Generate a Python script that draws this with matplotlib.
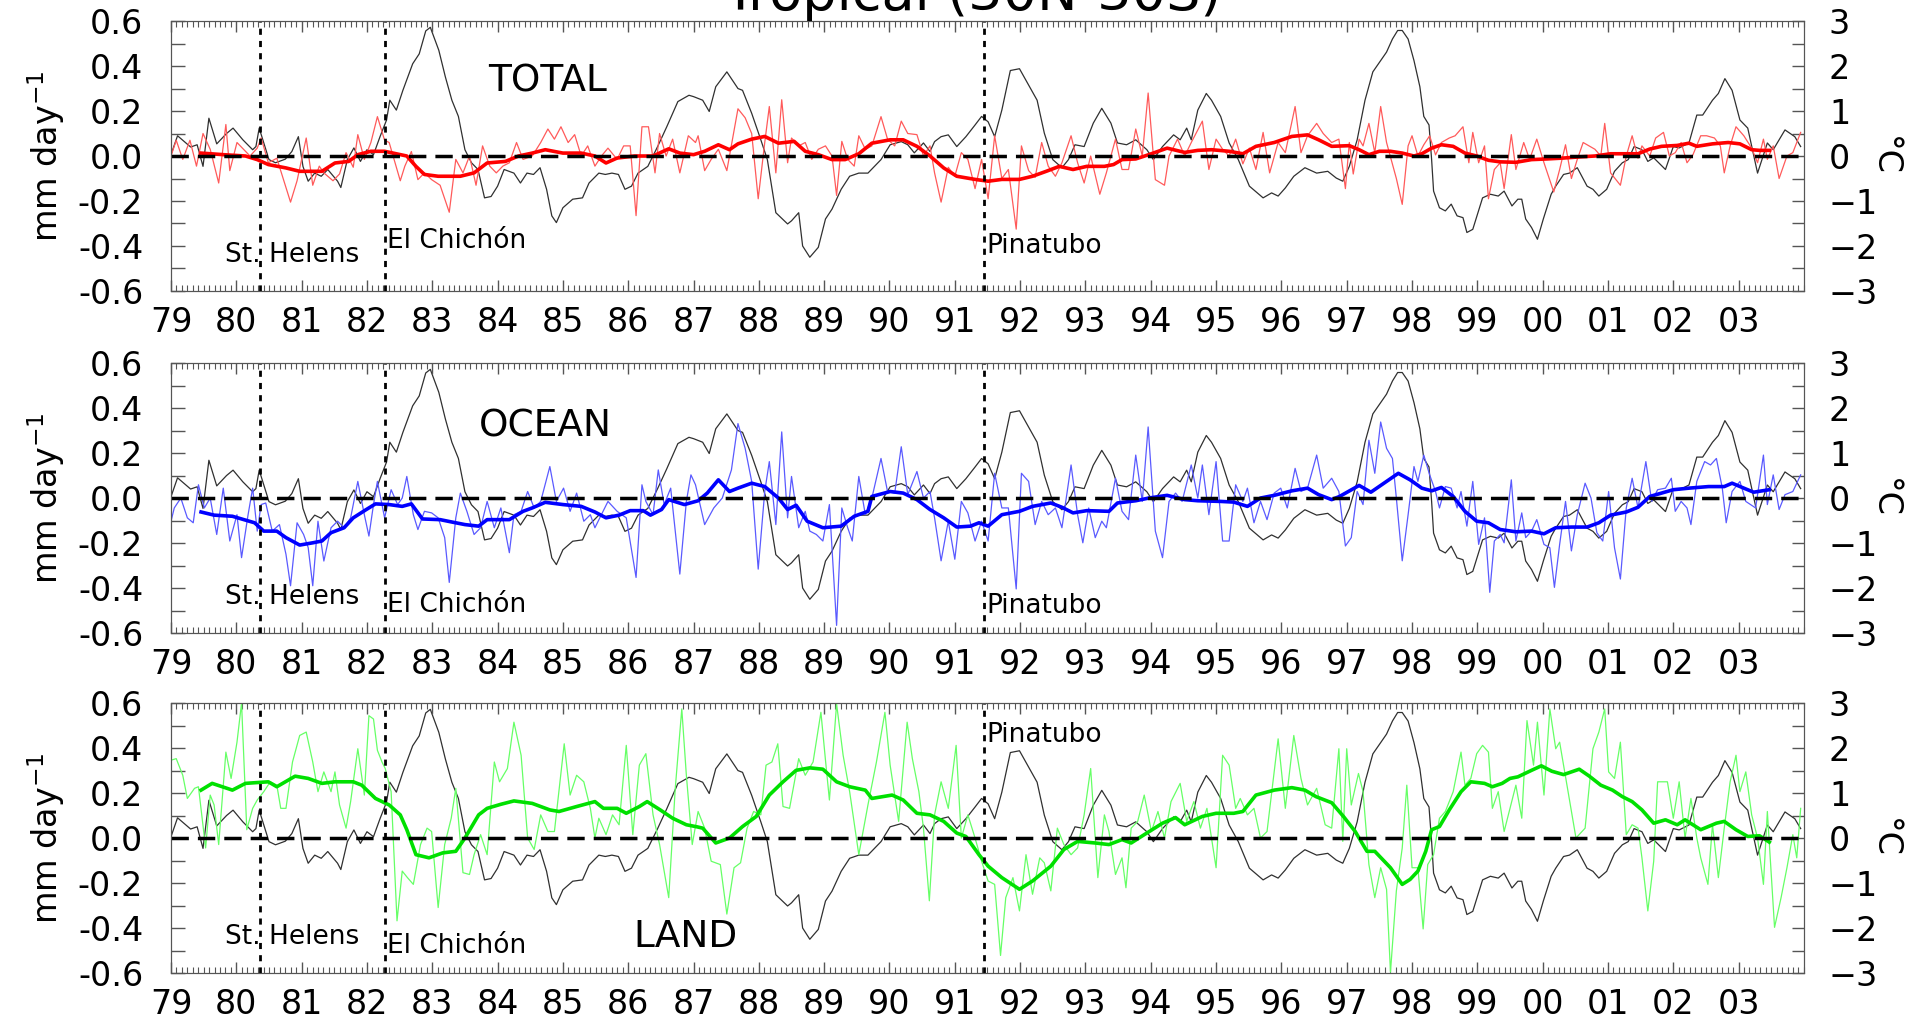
import numpy as np
import matplotlib
matplotlib.use('Agg')
import matplotlib.pyplot as plt
from matplotlib.ticker import MultipleLocator

# years are counted from 1900 (79 = 1979, 103 = 2003)
year_ticks = list(range(79, 104))
year_labels = ['%02d' % (y % 100) for y in year_ticks]

# Nino-3.4 style SST index (deg C), right axis
sst_t = [79.0, 79.1, 79.3, 79.4, 79.49, 79.58, 79.7, 79.85, 79.95, 80.1, 80.25, 80.3, 80.35, 80.5, 80.6,
         80.75, 80.85, 80.95, 81.02, 81.1, 81.2, 81.3, 81.4, 81.55, 81.6, 81.7, 81.8, 81.9, 82.0, 82.1,
         82.2, 82.3, 82.35, 82.45, 82.55, 82.7, 82.8, 82.9, 82.97, 83.1, 83.2, 83.3, 83.4, 83.5, 83.6,
         83.7, 83.8, 83.9, 84.0, 84.1, 84.25, 84.35, 84.45, 84.55, 84.65, 84.75, 84.83, 84.9, 85.0,
         85.15, 85.3, 85.4, 85.55, 85.65, 85.75, 85.85, 85.95, 86.05, 86.15, 86.3, 86.45, 86.59, 86.76,
         86.93, 87.0, 87.14, 87.24, 87.34, 87.51, 87.68, 87.75, 87.89, 88.03, 88.13, 88.26, 88.44, 88.5,
         88.61, 88.67, 88.78, 88.91, 89.02, 89.12, 89.26, 89.39, 89.53, 89.67, 89.87, 90.01, 90.18,
         90.28, 90.38, 90.52, 90.62, 90.69, 90.79, 90.9, 91.03, 91.17, 91.31, 91.41, 91.51, 91.61,
         91.72, 91.85, 91.99, 92.09, 92.26, 92.37, 92.5, 92.64, 92.74, 92.84, 92.98, 93.12, 93.25,
         93.39, 93.49, 93.63, 93.77, 93.94, 94.04, 94.18, 94.35, 94.45, 94.55, 94.62, 94.72, 94.85,
         94.93, 95.07, 95.2, 95.34, 95.51, 95.72, 95.85, 95.95, 96.06, 96.19, 96.36, 96.54, 96.71,
         96.84, 96.94, 97.04, 97.16, 97.28, 97.4, 97.52, 97.61, 97.7, 97.78, 97.85, 97.94, 98.03,
         98.12, 98.18, 98.26, 98.3, 98.33, 98.42, 98.51, 98.6, 98.69, 98.78, 98.84, 98.93, 99.08,
         99.2, 99.32, 99.41, 99.53, 99.62, 99.68, 99.74, 99.83, 99.92, 100.01, 100.13, 100.2, 100.32,
         100.41, 100.53, 100.68, 100.77, 100.86, 100.98, 101.1, 101.22, 101.31, 101.4, 101.52, 101.61,
         101.7, 101.88, 102.0, 102.09, 102.24, 102.36, 102.45, 102.6, 102.69, 102.79, 102.9, 103.02,
         103.14, 103.29, 103.44, 103.53, 103.71, 103.86, 103.95]
sst_c = [0.03, 0.45, 0.2, 0.25, -0.23, 0.84, 0.27, 0.5, 0.62, 0.36, 0.14, 0.21, 0.62, -0.08, -0.15,
         -0.07, 0.1, 0.43, -0.23, -0.56, -0.38, -0.45, -0.3, -0.56, -0.7, -0.08, 0.18, -0.12, 0.14, 0.03,
         0.43, 0.8, 1.24, 1.02, 1.46, 2.05, 2.27, 2.78, 2.86, 2.35, 1.76, 1.24, 0.88, 0.14, -0.15,
         -0.3, -0.93, -0.9, -0.67, -0.3, -0.38, -0.6, -0.38, -0.41, -0.26, -0.74, -1.33, -1.48, -1.15,
         -0.96, -0.93, -0.6, -0.38, -0.41, -0.38, -0.41, -0.74, -0.67, -0.38, -0.23, 0.21, 0.65, 1.21,
         1.35, 1.32, 1.24, 0.99, 1.54, 1.87, 1.5, 1.46, 0.95, 0.36, -0.08, -1.26, -1.51, -1.44,
         -1.26, -2.0, -2.25, -2.03, -1.4, -1.18, -0.74, -0.45, -0.38, -0.38, -0.08, 0.25, 0.32,
         0.25, 0.07, 0.29, 0.1, 0.32, 0.43, 0.47, 0.21, 0.43, 0.69, 0.88, 0.76, 0.43,
         1.02, 1.9, 1.94, 1.68, 1.24, 0.51, -0.08, -0.26, -0.08, 0.25, 0.21, 0.73, 1.06,
         0.73, 0.29, 0.25, 0.36, 0.14, -0.08, 0.21, 0.47, 0.36, 0.62, 0.36, 1.02, 1.39,
         1.24, 0.88, 0.29, -0.08, -0.67, -0.93, -0.82, -0.89, -0.71, -0.45, -0.26, -0.38, -0.34,
         -0.49, -0.56, -0.23, 0.36, 1.24, 1.87, 2.12, 2.31, 2.6, 2.79, 2.79, 2.6, 2.12,
         1.54, 0.88, 0.69, -0.08, -0.78, -1.15, -1.22, -1.07, -1.33, -1.37, -1.7, -1.63, -0.93,
         -0.85, -0.89, -0.78, -1.11, -0.96, -0.96, -1.4, -1.59, -1.85, -1.4, -0.85, -0.67, -0.41,
         -0.38, -0.26, -0.67, -0.74, -0.89, -0.74, -0.34, -0.15, -0.08, 0.21, 0.14, -0.12,
         -0.04, -0.3, 0.21, 0.18, 0.29, 0.91, 0.91, 1.24, 1.39, 1.72, 1.46, 0.8,
         0.62, -0.38, 0.29, 0.14, 0.58, 0.43, 0.21]

# TOTAL precipitation anomaly (mm/day): monthly and smoothed
tot_t = [79.0, 79.08, 79.18, 79.29, 79.39, 79.49, 79.6, 79.73, 79.84, 79.9, 80.01, 80.11, 80.21, 80.32,
         80.38, 80.49, 80.62, 80.83, 80.93, 81.07, 81.17, 81.27, 81.34, 81.48, 81.58, 81.68, 81.79,
         81.86, 81.96, 82.06, 82.16, 82.27, 82.34, 82.4, 82.51, 82.58, 82.68, 82.78, 82.88, 82.99,
         83.12, 83.26, 83.36, 83.47, 83.57, 83.67, 83.77, 83.88, 83.98, 84.08, 84.18, 84.29, 84.39,
         84.53, 84.66, 84.77, 84.87, 84.97, 85.08, 85.18, 85.28, 85.38, 85.49, 85.59, 85.69, 85.83,
         85.93, 86.03, 86.12, 86.21, 86.31, 86.41, 86.48, 86.58, 86.68, 86.79, 86.92, 87.03, 87.07,
         87.17, 87.27, 87.38, 87.51, 87.68, 87.79, 87.89, 87.99, 88.09, 88.16, 88.26, 88.35, 88.44,
         88.5, 88.61, 88.71, 88.81, 88.91, 89.02, 89.12, 89.19, 89.27, 89.36, 89.46, 89.53, 89.63,
         89.73, 89.87, 89.97, 90.08, 90.18, 90.28, 90.42, 90.52, 90.62, 90.69, 90.79, 90.9, 91.0,
         91.1, 91.2, 91.31, 91.41, 91.51, 91.61, 91.72, 91.82, 91.94, 92.02, 92.13, 92.23, 92.33,
         92.43, 92.54, 92.64, 92.78, 92.88, 92.98, 93.08, 93.22, 93.32, 93.46, 93.56, 93.66, 93.77,
         93.87, 93.96, 94.07, 94.21, 94.28, 94.41, 94.52, 94.62, 94.79, 94.89, 95.0, 95.1, 95.2,
         95.3, 95.41, 95.51, 95.61, 95.72, 95.82, 95.95, 96.06, 96.21, 96.3, 96.4, 96.54, 96.64,
         96.77, 96.88, 96.98, 97.04, 97.1, 97.19, 97.25, 97.34, 97.43, 97.52, 97.61, 97.76, 97.85,
         97.94, 98.0, 98.09, 98.18, 98.27, 98.36, 98.45, 98.57, 98.66, 98.78, 98.87, 98.93, 99.02,
         99.11, 99.17, 99.26, 99.35, 99.41, 99.52, 99.59, 99.71, 99.8, 99.91, 100.02, 100.17, 100.26,
         100.35, 100.44, 100.53, 100.62, 100.71, 100.8, 100.89, 100.95, 101.04, 101.19, 101.28,
         101.37, 101.46, 101.52, 101.64, 101.73, 101.85, 101.94, 102.03, 102.12, 102.21, 102.3,
         102.42, 102.51, 102.63, 102.72, 102.78, 102.87, 102.96, 103.08, 103.2, 103.29, 103.38,
         103.44, 103.53, 103.62, 103.74, 103.83, 103.95]
tot_mm = [0.0, 0.07, -0.015, 0.07, -0.045, 0.1, 0.03, -0.12, 0.14, -0.065, 0.06, 0.03, 0.0, 0.035,
          0.08, -0.03, -0.01, -0.205, -0.11, 0.08, -0.13, -0.045, -0.075, -0.11, -0.08, 0.015, -0.05,
          0.095, -0.015, 0.06, 0.175, 0.07, 0.06, 0.0, -0.11, -0.045, 0.02, -0.105, -0.075, -0.105,
          -0.13, -0.25, -0.015, -0.075, 0.0, -0.13, 0.045, -0.045, -0.075, -0.045, -0.03, 0.06, -0.015,
          0.0, 0.06, 0.12, 0.075, 0.13, 0.06, 0.095, 0.0, 0.045, -0.045, 0.0, 0.035, -0.015,
          0.045, 0.045, -0.265, 0.13, 0.13, -0.075, 0.1, 0.0, 0.075, -0.075, 0.09, 0.06, 0.09,
          -0.065, -0.015, 0.03, -0.065, 0.21, 0.17, 0.1, -0.19, 0.06, 0.22, -0.075, 0.25, -0.03,
          0.08, 0.045, 0.06, -0.015, 0.03, 0.045, 0.0, -0.175, 0.065, -0.015, -0.045, 0.09, 0.03,
          0.045, 0.175, 0.075, 0.045, 0.155, 0.1, 0.095, 0.0, 0.045, -0.075, -0.205, -0.05, -0.09,
          0.015, -0.015, -0.145, -0.015, -0.19, 0.09, -0.1, -0.06, -0.325, 0.045, -0.065, -0.095, 0.06,
          -0.045, -0.09, -0.03, 0.09, -0.03, -0.12, 0.0, -0.17, -0.075, 0.075, -0.06, -0.06, 0.12,
          0.0, 0.28, -0.105, -0.13, 0.0, 0.075, 0.0, 0.06, 0.155, -0.06, 0.075, 0.03, 0.0,
          0.075, -0.035, 0.035, -0.06, 0.105, -0.075, 0.06, 0.015, 0.22, 0.015, 0.09, 0.145, 0.1,
          0.06, 0.075, -0.145, 0.06, -0.08, 0.075, 0.045, 0.145, 0.015, 0.22, 0.06, -0.1, -0.215,
          0.045, 0.09, 0.0, 0.05, 0.09, 0.005, 0.06, 0.08, 0.09, 0.13, -0.03, 0.105, -0.03,
          0.045, -0.19, -0.06, -0.03, -0.145, 0.095, -0.06, 0.06, -0.015, 0.075, -0.03, -0.16, -0.06,
          0.05, -0.1, -0.015, 0.06, 0.045, 0.03, 0.0, 0.145, -0.075, -0.13, 0.0,
          0.09, -0.01, 0.045, 0.0, 0.08, 0.105, 0.0, 0.015, 0.06, -0.03, 0.005,
          0.09, 0.09, 0.08, 0.045, -0.075, 0.045, 0.13, 0.09, 0.035, -0.03, 0.075,
          -0.015, 0.045, -0.1, 0.0, 0.015, 0.105]
tot_smooth_t = [79.46, 79.8, 80.14, 80.32, 80.49, 80.76, 80.97, 81.31, 81.51, 81.72, 81.86, 82.06, 82.27,
                82.4, 82.61, 82.75, 82.88, 83.09, 83.43, 83.64, 83.84, 84.12, 84.32, 84.53, 84.73, 85.0,
                85.28, 85.49, 85.66, 85.83, 86.1, 86.38, 86.62, 86.79, 87.0, 87.17, 87.38, 87.55, 87.68,
                87.89, 88.09, 88.3, 88.54, 88.71, 88.91, 89.12, 89.32, 89.53, 89.73, 90.01, 90.21, 90.42,
                90.62, 90.83, 91.03, 91.31, 91.51, 91.72, 91.99, 92.19, 92.4, 92.6, 92.81, 93.02, 93.29,
                93.43, 93.56, 93.77, 93.97, 94.25, 94.52, 94.72, 94.93, 95.2, 95.41, 95.61, 95.89, 96.16,
                96.4, 96.57, 96.77, 97.04, 97.19, 97.34, 97.5, 97.67, 97.85, 98.03, 98.15, 98.3, 98.45,
                98.63, 98.81, 98.99, 99.17, 99.35, 99.59, 99.83, 100.07, 100.32, 100.56, 100.8, 101.04,
                101.28, 101.46, 101.64, 101.82, 102.06, 102.24, 102.36, 102.6, 102.84, 103.02, 103.2,
                103.32, 103.47]
tot_smooth = [0.013, 0.006, 0.0, -0.016, -0.038, -0.053, -0.068, -0.068, -0.031, -0.024, 0.006, 0.021, 0.021,
              0.013, 0.0, -0.046, -0.082, -0.09, -0.09, -0.075, -0.031, -0.024, 0.0, 0.013, 0.028, 0.013,
              0.013, 0.0, -0.031, -0.009, 0.0, 0.0, 0.032, 0.013, 0.006, 0.021, 0.05, 0.028, 0.054,
              0.075, 0.087, 0.057, 0.065, 0.021, 0.006, -0.016, -0.016, 0.01, 0.057, 0.072, 0.072, 0.043,
              0.0, -0.053, -0.09, -0.104, -0.112, -0.104, -0.104, -0.09, -0.068, -0.046, -0.06, -0.046, -0.046,
              -0.038, -0.016, -0.013, 0.006, 0.035, 0.016, 0.025, 0.028, 0.021, 0.01, 0.043, 0.06, 0.087,
              0.094, 0.072, 0.043, 0.046, 0.028, 0.006, 0.021, 0.021, 0.013, 0.0, 0.01, 0.035, 0.05,
              0.043, 0.013, 0.0, -0.019, -0.026, -0.028, -0.016, -0.013, -0.009, -0.004, 0.0, 0.01,
              0.01, 0.01, 0.031, 0.043, 0.047, 0.057, 0.043, 0.054, 0.06, 0.054, 0.028,
              0.025, 0.025]

# OCEAN precipitation anomaly (mm/day)
ocn_t = [79.0, 79.05, 79.15, 79.25, 79.34, 79.42, 79.51, 79.6, 79.7, 79.8, 79.9, 80.01, 80.08, 80.18,
         80.25, 80.32, 80.38, 80.45, 80.55, 80.66, 80.76, 80.83, 80.93, 81.03, 81.1, 81.17, 81.25,
         81.34, 81.45, 81.55, 81.65, 81.75, 81.86, 81.96, 82.03, 82.1, 82.16, 82.27, 82.37, 82.47,
         82.54, 82.61, 82.71, 82.78, 82.88, 82.99, 83.09, 83.19, 83.26, 83.36, 83.43, 83.53, 83.64,
         83.74, 83.84, 83.95, 84.05, 84.18, 84.25, 84.36, 84.46, 84.56, 84.66, 84.8, 84.9, 85.01,
         85.11, 85.21, 85.32, 85.42, 85.49, 85.59, 85.69, 85.83, 85.97, 86.12, 86.21, 86.27, 86.38,
         86.46, 86.55, 86.65, 86.79, 86.89, 86.96, 87.03, 87.17, 87.31, 87.44, 87.58, 87.68, 87.79,
         87.89, 87.99, 88.09, 88.16, 88.26, 88.35, 88.44, 88.5, 88.61, 88.71, 88.78, 88.88, 88.98,
         89.08, 89.19, 89.27, 89.36, 89.43, 89.53, 89.63, 89.73, 89.87, 89.97, 90.08, 90.18, 90.28,
         90.42, 90.52, 90.62, 90.69, 90.79, 90.9, 91.0, 91.1, 91.2, 91.31, 91.41, 91.51, 91.61,
         91.72, 91.82, 91.94, 92.02, 92.13, 92.23, 92.33, 92.43, 92.54, 92.64, 92.78, 92.88, 92.96,
         93.05, 93.15, 93.25, 93.32, 93.46, 93.56, 93.66, 93.77, 93.87, 93.96, 94.07, 94.18, 94.28,
         94.38, 94.48, 94.62, 94.72, 94.79, 94.89, 95.0, 95.1, 95.2, 95.3, 95.41, 95.48, 95.58,
         95.68, 95.78, 95.89, 95.99, 96.09, 96.21, 96.3, 96.4, 96.54, 96.64, 96.77, 96.88, 96.98,
         97.07, 97.16, 97.25, 97.34, 97.43, 97.52, 97.61, 97.7, 97.76, 97.85, 97.94, 98.03, 98.09,
         98.18, 98.27, 98.36, 98.42, 98.51, 98.6, 98.69, 98.75, 98.84, 98.93, 99.02, 99.11, 99.19,
         99.26, 99.35, 99.41, 99.52, 99.59, 99.68, 99.74, 99.83, 99.91, 100.02, 100.11, 100.18, 100.26,
         100.35, 100.44, 100.53, 100.65, 100.74, 100.83, 100.92, 101.01, 101.1, 101.19, 101.28, 101.37,
         101.46, 101.58, 101.67, 101.76, 101.88, 101.97, 102.03, 102.12, 102.21, 102.27, 102.36, 102.48,
         102.57, 102.66, 102.75, 102.81, 102.9, 103.02, 103.11, 103.26, 103.38, 103.44, 103.53, 103.62,
         103.71, 103.83, 103.95]
ocn_mm = [-0.103, -0.044, 0.0, -0.088, -0.11, 0.059, -0.044, 0.0, -0.162, 0.044, -0.191, -0.074, -0.265, -0.074,
          0.044, -0.147, -0.029, -0.022, -0.147, -0.118, -0.25, -0.39, -0.11, -0.162, -0.22, -0.39, -0.103,
          -0.28, -0.132, -0.103, -0.132, -0.088, 0.074, -0.074, -0.169, -0.029, 0.074, -0.088, 0.037, -0.029,
          0.0, 0.096, -0.074, -0.14, -0.059, -0.066, -0.088, -0.176, -0.375, -0.088, 0.022, -0.059, -0.162,
          -0.132, -0.015, -0.132, -0.044, -0.243, -0.074, -0.059, 0.029, -0.044, -0.015, 0.14, -0.015, 0.044,
          -0.059, 0.022, -0.103, -0.074, -0.132, -0.074, -0.015, -0.059, -0.088, -0.353, 0.059, -0.015, -0.074,
          0.125, -0.029, 0.044, -0.338, -0.015, 0.103, 0.059, -0.118, -0.044, 0.0, 0.125, 0.331, 0.221,
          0.074, -0.316, 0.029, 0.162, -0.118, 0.294, -0.088, 0.096, -0.132, -0.059, -0.147, -0.162, -0.191,
          -0.029, -0.566, -0.044, -0.132, -0.191, 0.096, -0.074, 0.0, 0.176, 0.029, 0.022, 0.228, 0.015,
          0.118, 0.0, 0.029, -0.088, -0.279, -0.103, -0.272, -0.015, -0.066, -0.191, -0.103, -0.191, 0.11,
          -0.044, -0.044, -0.404, 0.11, 0.074, -0.118, -0.015, -0.074, -0.044, -0.132, 0.147, -0.074, -0.199,
          -0.044, -0.176, -0.103, -0.132, 0.088, -0.059, -0.096, 0.191, -0.015, 0.316, -0.147, -0.265, -0.015,
          0.022, -0.015, 0.147, 0.0, 0.147, -0.074, 0.162, -0.191, -0.191, 0.059, -0.015, 0.044, -0.11,
          -0.015, -0.096, 0.022, 0.044, -0.044, 0.132, 0.029, 0.044, 0.191, 0.044, 0.088, 0.029, -0.213,
          -0.176, 0.029, -0.029, 0.257, 0.11, 0.338, 0.221, 0.176, 0.0, -0.279, -0.074, 0.14, 0.074,
          0.191, 0.103, 0.029, -0.044, 0.051, 0.044, -0.044, 0.029, -0.125, 0.074, -0.206, -0.088, -0.419,
          -0.191, -0.162, -0.199, 0.081, -0.191, -0.066, -0.176, -0.147, -0.096, -0.206, -0.221, -0.397, -0.206,
          -0.015, -0.235, -0.074, 0.066, 0.0, -0.154, -0.191, 0.029, -0.221, -0.36, -0.044, 0.088,
          -0.044, 0.162, -0.015, 0.037, 0.044, 0.088, -0.059, -0.015, -0.044, -0.118, 0.074, 0.162,
          0.147, 0.176, 0.044, -0.11, 0.029, 0.074, -0.015, -0.044, 0.191, -0.029, 0.103, -0.051,
          0.015, 0.029, 0.103]
ocn_smooth_t = [79.46, 79.66, 79.94, 80.28, 80.42, 80.62, 80.76, 80.97, 81.17, 81.31, 81.45, 81.65, 81.79,
                81.99, 82.13, 82.34, 82.54, 82.68, 82.85, 83.12, 83.29, 83.5, 83.71, 83.84, 84.18, 84.39,
                84.53, 84.73, 85.0, 85.28, 85.49, 85.66, 85.86, 86.03, 86.23, 86.34, 86.51, 86.62, 86.86,
                87.07, 87.21, 87.38, 87.55, 87.68, 87.89, 88.09, 88.3, 88.44, 88.57, 88.74, 88.98, 89.26,
                89.46, 89.67, 89.73, 90.01, 90.21, 90.42, 90.62, 90.83, 91.03, 91.24, 91.37, 91.51, 91.72,
                91.99, 92.19, 92.47, 92.64, 92.81, 93.02, 93.36, 93.49, 93.77, 93.97, 94.25, 94.52, 94.72,
                95.07, 95.27, 95.48, 95.68, 95.89, 96.16, 96.4, 96.57, 96.77, 96.89, 97.19, 97.37, 97.61,
                97.79, 97.97, 98.15, 98.3, 98.45, 98.63, 98.81, 98.99, 99.17, 99.35, 99.59, 99.83, 100.02,
                100.2, 100.44, 100.68, 100.86, 101.04, 101.28, 101.46, 101.64, 101.82, 102.0, 102.24,
                102.54, 102.78, 102.9, 103.08, 103.23, 103.47]
ocn_smooth = [-0.062, -0.076, -0.081, -0.11, -0.147, -0.147, -0.176, -0.209, -0.199, -0.191, -0.154, -0.132, -0.088,
              -0.051, -0.026, -0.029, -0.037, -0.026, -0.093, -0.096, -0.106, -0.118, -0.125, -0.096, -0.096, -0.059,
              -0.044, -0.019, -0.029, -0.037, -0.062, -0.088, -0.076, -0.056, -0.056, -0.076, -0.051, -0.007, -0.029,
              -0.012, 0.022, 0.081, 0.029, 0.044, 0.066, 0.051, 0.0, -0.051, -0.032, -0.103, -0.132, -0.125,
              -0.081, -0.059, 0.007, 0.029, 0.022, -0.007, -0.051, -0.088, -0.129, -0.125, -0.11, -0.125, -0.074,
              -0.059, -0.037, -0.022, -0.041, -0.066, -0.056, -0.059, -0.022, -0.012, 0.0, 0.012, -0.007, -0.012,
              -0.015, -0.018, -0.037, 0.0, 0.012, 0.032, 0.044, 0.015, -0.007, 0.007, 0.056, 0.026, 0.074,
              0.11, 0.081, 0.044, 0.032, 0.047, 0.007, -0.059, -0.103, -0.11, -0.14, -0.15, -0.147, -0.159,
              -0.132, -0.129, -0.129, -0.11, -0.076, -0.062, -0.041, 0.007, 0.022, 0.037, 0.044,
              0.051, 0.051, 0.066, 0.044, 0.026, 0.037]

# LAND precipitation anomaly (mm/day)
lnd_t = [79.0, 79.08, 79.18, 79.25, 79.36, 79.42, 79.53, 79.6, 79.66, 79.73, 79.84, 79.92, 80.01, 80.08,
         80.16, 80.25, 80.32, 80.42, 80.52, 80.62, 80.68, 80.76, 80.86, 80.97, 81.07, 81.17, 81.25,
         81.34, 81.45, 81.51, 81.58, 81.68, 81.75, 81.86, 81.96, 82.03, 82.1, 82.16, 82.23, 82.28,
         82.37, 82.46, 82.54, 82.62, 82.71, 82.82, 82.92, 82.99, 83.09, 83.19, 83.29, 83.36, 83.47,
         83.57, 83.64, 83.74, 83.84, 83.95, 84.03, 84.15, 84.25, 84.36, 84.46, 84.56, 84.66, 84.77,
         84.87, 85.02, 85.11, 85.21, 85.32, 85.42, 85.49, 85.55, 85.66, 85.76, 85.86, 85.97, 86.07,
         86.17, 86.27, 86.38, 86.48, 86.62, 86.72, 86.82, 86.89, 86.98, 87.07, 87.17, 87.27, 87.41,
         87.51, 87.62, 87.72, 87.82, 87.92, 88.03, 88.11, 88.2, 88.29, 88.37, 88.47, 88.61, 88.71,
         88.83, 88.95, 89.02, 89.08, 89.19, 89.29, 89.39, 89.53, 89.67, 89.8, 89.93, 90.01, 90.14,
         90.27, 90.35, 90.45, 90.52, 90.61, 90.69, 90.79, 90.9, 91.02, 91.1, 91.2, 91.31, 91.41,
         91.51, 91.61, 91.7, 91.78, 91.89, 91.99, 92.09, 92.19, 92.3, 92.37, 92.47, 92.57, 92.67,
         92.78, 92.88, 92.98, 93.08, 93.19, 93.29, 93.36, 93.46, 93.56, 93.62, 93.7, 93.8, 93.9,
         94.01, 94.11, 94.21, 94.31, 94.45, 94.55, 94.66, 94.76, 94.86, 95.0, 95.1, 95.2, 95.3,
         95.37, 95.48, 95.58, 95.68, 95.78, 95.95, 96.06, 96.19, 96.3, 96.4, 96.54, 96.67, 96.77,
         96.88, 96.94, 97.0, 97.07, 97.18, 97.25, 97.34, 97.43, 97.52, 97.61, 97.67, 97.76, 97.85,
         97.92, 98.0, 98.09, 98.17, 98.24, 98.33, 98.42, 98.51, 98.63, 98.75, 98.81, 98.9, 98.99,
         99.08, 99.17, 99.23, 99.32, 99.41, 99.5, 99.59, 99.68, 99.76, 99.86, 99.92, 100.02, 100.11,
         100.2, 100.26, 100.38, 100.51, 100.65, 100.77, 100.86, 100.95, 101.01, 101.1, 101.19, 101.28,
         101.37, 101.46, 101.52, 101.61, 101.7, 101.76, 101.91, 102.0, 102.09, 102.18, 102.27, 102.36,
         102.42, 102.53, 102.6, 102.69, 102.78, 102.87, 102.96, 103.02, 103.11, 103.2, 103.29, 103.38,
         103.44, 103.55, 103.65, 103.74, 103.83, 103.89, 103.95]
lnd_mm = [0.346, 0.353, 0.279, 0.176, 0.221, 0.228, -0.044, 0.191, 0.147, -0.029, 0.382, 0.265, 0.426, 0.6,
          0.037, 0.132, 0.169, 0.206, 0.25, 0.235, 0.132, 0.132, 0.338, 0.456, 0.471, 0.338, 0.206,
          0.294, 0.206, 0.294, 0.147, 0.044, 0.162, 0.397, 0.191, 0.544, 0.529, 0.39, 0.338, 0.309,
          0.206, -0.368, -0.147, -0.176, -0.206, -0.029, 0.044, 0.029, -0.309, -0.029, 0.088, 0.221, -0.154,
          -0.162, -0.074, 0.015, -0.074, 0.338, 0.25, 0.309, 0.515, 0.368, 0.0, -0.051, 0.103, 0.029,
          0.029, 0.419, 0.191, 0.279, 0.25, 0.132, 0.0, 0.088, 0.015, 0.103, 0.059, 0.412, 0.015,
          0.324, 0.375, 0.103, -0.029, -0.265, 0.221, 0.574, 0.279, -0.029, 0.118, 0.044, -0.103, -0.118,
          -0.338, -0.132, -0.11, 0.044, 0.118, 0.103, 0.324, 0.338, 0.419, 0.14, 0.132, 0.353, 0.279,
          0.338, 0.559, 0.346, 0.169, 0.596, 0.368, 0.206, -0.074, 0.147, 0.338, 0.559, 0.324, 0.074,
          0.515, 0.353, 0.206, 0.044, -0.279, 0.103, 0.25, 0.132, 0.412, 0.0, 0.103, 0.0, -0.103,
          -0.191, -0.206, -0.522, -0.265, -0.176, -0.324, -0.074, -0.25, -0.088, -0.11, -0.235, 0.044, -0.029,
          -0.074, -0.044, 0.103, 0.309, -0.176, 0.103, 0.029, -0.162, -0.088, -0.221, 0.044, 0.074, 0.191,
          0.029, 0.118, 0.0, 0.162, 0.243, 0.074, 0.162, 0.044, 0.132, -0.132, 0.368, 0.324, 0.132,
          0.176, 0.103, 0.132, 0.0, 0.029, 0.441, 0.132, 0.456, 0.265, 0.147, 0.221, 0.059, 0.044,
          0.397, -0.015, 0.397, 0.147, 0.287, 0.206, -0.118, -0.265, -0.132, -0.228, -0.596, -0.235, -0.044,
          0.235, -0.132, -0.132, -0.404, -0.118, -0.074, 0.088, 0.118, 0.206, 0.382, 0.235, 0.265, 0.375,
          0.412, 0.382, 0.132, 0.206, 0.029, 0.132, 0.235, 0.088, 0.522, 0.324, 0.515, 0.191, 0.574,
          0.397, 0.426, 0.221, 0.0, 0.044, 0.397, 0.471, 0.574, 0.294, 0.265, 0.426, 0.015,
          0.059, 0.044, -0.088, -0.324, -0.103, 0.25, 0.25, 0.088, 0.25, 0.0, 0.176, 0.0,
          -0.088, -0.206, 0.059, -0.176, 0.044, 0.25, 0.368, 0.206, 0.294, 0.103, 0.0, -0.206,
          0.118, -0.397, -0.265, -0.132, 0.015, -0.088, 0.132]
lnd_smooth_t = [79.46, 79.63, 79.94, 80.14, 80.49, 80.62, 80.9, 81.1, 81.31, 81.51, 81.79, 81.92, 82.13,
                82.34, 82.51, 82.61, 82.75, 82.95, 83.16, 83.36, 83.5, 83.71, 83.84, 84.05, 84.25, 84.53,
                84.8, 84.94, 85.21, 85.49, 85.62, 85.83, 85.97, 86.17, 86.29, 86.49, 86.68, 86.89, 87.05,
                87.14, 87.34, 87.55, 87.75, 87.96, 88.16, 88.37, 88.57, 88.78, 88.98, 89.19, 89.39, 89.63,
                89.73, 90.04, 90.21, 90.42, 90.62, 90.83, 91.03, 91.17, 91.37, 91.51, 91.72, 91.99, 92.19,
                92.47, 92.67, 92.88, 93.15, 93.36, 93.56, 93.7, 93.9, 94.18, 94.38, 94.52, 94.79, 95.0,
                95.27, 95.41, 95.61, 95.89, 96.16, 96.36, 96.53, 96.77, 96.95, 97.13, 97.31, 97.43, 97.67,
                97.85, 97.97, 98.09, 98.21, 98.3, 98.42, 98.57, 98.75, 98.9, 99.11, 99.23, 99.38, 99.5,
                99.62, 99.83, 99.98, 100.14, 100.32, 100.56, 100.71, 100.89, 101.07, 101.22, 101.37,
                101.52, 101.7, 101.88, 102.06, 102.18, 102.42, 102.66, 102.78, 102.96, 103.14, 103.32,
                103.47]
lnd_smooth = [0.213, 0.243, 0.213, 0.243, 0.25, 0.228, 0.275, 0.265, 0.243, 0.25, 0.25, 0.235, 0.176,
              0.147, 0.103, 0.037, -0.074, -0.088, -0.066, -0.059, 0.0, 0.103, 0.132, 0.15, 0.165, 0.154,
              0.125, 0.118, 0.14, 0.162, 0.132, 0.132, 0.11, 0.14, 0.162, 0.125, 0.088, 0.059, 0.05,
              0.044, -0.022, 0.0, 0.051, 0.096, 0.191, 0.25, 0.301, 0.312, 0.306, 0.25, 0.228, 0.213,
              0.176, 0.191, 0.169, 0.11, 0.103, 0.074, 0.022, 0.007, -0.074, -0.125, -0.176, -0.228, -0.191,
              -0.125, -0.051, -0.015, -0.022, -0.029, -0.007, -0.022, 0.015, 0.066, 0.091, 0.059, 0.096, 0.11,
              0.11, 0.118, 0.191, 0.213, 0.224, 0.213, 0.184, 0.157, 0.096, 0.029, -0.059, -0.059, -0.132,
              -0.206, -0.184, -0.147, -0.059, 0.037, 0.051, 0.125, 0.206, 0.25, 0.243, 0.228, 0.243, 0.265,
              0.272, 0.301, 0.321, 0.297, 0.282, 0.306, 0.276, 0.235, 0.213, 0.184, 0.162,
              0.125, 0.066, 0.081, 0.059, 0.081, 0.037, 0.066, 0.074, 0.037, 0.007, 0.01,
              -0.018]

# volcanic eruptions
volc_year = [80.37, 82.27, 91.45]
volc_name = ['St. Helens', 'El Chich\u00f3n', 'Pinatubo']

panels = [
    ('TOTAL', tot_t, tot_mm, tot_smooth_t, tot_smooth, '#ff5a5a', '#ff0000'),
    ('OCEAN', ocn_t, ocn_mm, ocn_smooth_t, ocn_smooth, '#5a5aff', '#0000ff'),
    ('LAND', lnd_t, lnd_mm, lnd_smooth_t, lnd_smooth, '#66ff66', '#00e000'),
]
# where the names go in each panel: (x, y) in data units
name_pos = [(84.76, 0.33), (84.73, 0.316), (86.87, -0.44)]
volc_text_y = [(-0.44, -0.38, -0.40), (-0.44, -0.475, -0.48), (-0.44, -0.48, 0.46)]

plt.rcParams['font.family'] = 'DejaVu Sans'
fig = plt.figure(figsize=(19.15, 10.21), dpi=100)
fig.text(0.508, 1 - 10 / 1021, 'Tropical (30N-30S)', ha='center', va='baseline', fontsize=39, color='black')

bottoms = [0.715, 0.380, 0.047]
for i, (name, t, mm, st, sm, thin_c, thick_c) in enumerate(panels):
    ax = fig.add_axes([0.0893, bottoms[i], 0.8527, 0.2644])
    ax2 = ax.twinx()
    ax.set_zorder(ax2.get_zorder() + 1)
    ax.patch.set_visible(False)

    ax2.plot(sst_t, sst_c, color='#303030', lw=0.9)
    ax2.set_ylim(-3, 3)
    ax2.yaxis.set_major_locator(MultipleLocator(1))
    ax2.yaxis.set_minor_locator(MultipleLocator(0.5))
    ax2.tick_params(axis='y', which='both', direction='in', length=9, width=1, labelsize=24, pad=18, color='#555555')
    ax2.set_ylabel('\u00b0C', fontsize=24, rotation=270, labelpad=16)

    ax.plot(t, mm, color=thin_c, lw=0.9)
    ax.plot(st, sm, color=thick_c, lw=2.6)
    ax.axhline(0, color='black', lw=2.5, dashes=(5, 2.6))
    for k, vy in enumerate(volc_year):
        ax.axvline(vy, color='black', lw=2, dashes=(2.2, 2.2))
    ax.text(79.83, volc_text_y[i][0], volc_name[0], fontsize=19, va='center')
    ax.text(82.3, volc_text_y[i][1], volc_name[1], fontsize=19, va='center')
    ax.text(91.48, volc_text_y[i][2], volc_name[2], fontsize=19, va='center')
    ax.text(name_pos[i][0], name_pos[i][1], name, fontsize=27, ha='center', va='center')

    ax.set_xlim(79, 104)
    ax.set_ylim(-0.6, 0.6)
    ax.set_xticks(year_ticks)
    ax.set_xticklabels(year_labels)
    ax.xaxis.set_minor_locator(MultipleLocator(1 / 12))
    ax.yaxis.set_major_locator(MultipleLocator(0.2))
    ax.yaxis.set_minor_locator(MultipleLocator(0.1))
    ax.set_yticklabels(['%.1f' % v for v in ax.get_yticks()])
    ax.tick_params(axis='x', which='major', direction='in', length=8, width=1, top=True, labelsize=24, pad=11, color='#555555')
    ax.tick_params(axis='x', which='minor', direction='in', length=4, width=0.8, top=True, color='#555555')
    ax.tick_params(axis='y', which='both', direction='in', length=10, width=1, labelsize=24, pad=20, color='#555555')
    ax.set_ylabel('mm day$^{-1}$', fontsize=24, labelpad=8)
    for sp in list(ax.spines.values()) + list(ax2.spines.values()):
        sp.set_color('#555555')

fig.savefig('out.png', dpi=100)
